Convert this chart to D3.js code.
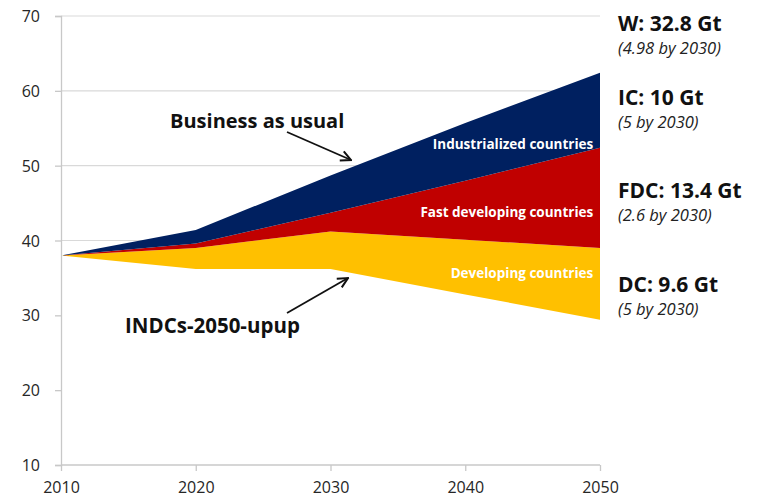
<!DOCTYPE html>
<html><head><meta charset="utf-8">
<script src="https://cdn.jsdelivr.net/npm/d3@7"></script>
<style>html,body{margin:0;padding:0;background:#fff;}svg{display:block;font-family:"Open Sans",sans-serif;}</style>
</head><body>
<svg id="c" width="765" height="500"></svg>
<script>
const years = [2010, 2020, 2030, 2040, 2050];
const baseline = [38, 36.2, 36.2, 32.8, 29.4];
const developing = [0, 2.8, 5.0, 7.3, 9.6];
const fastDeveloping = [0, 0.6, 2.5, 7.9, 13.4];
const industrialized = [0, 1.8, 5.0, 7.7, 10.0];
const yTicks = [10, 20, 30, 40, 50, 60, 70];
const gridTicks = [40, 50, 60, 70];
const seriesKeys = ["base", "DC", "FDC", "IC"];
const seriesColors = {base: "#ffffff", DC: "#ffc000", FDC: "#c00000", IC: "#002060"};
const areaLabels = [
  {key: "IC", text: "Industrialized countries", value: 52.8},
  {key: "FDC", text: "Fast developing countries", value: 43.8},
  {key: "DC", text: "Developing countries", value: 35.65}
];
const sideLabels = [
  {main: "W: 32.8 Gt", sub: "(4.98 by 2030)"},
  {main: "IC: 10 Gt", sub: "(5 by 2030)"},
  {main: "FDC: 13.4 Gt", sub: "(2.6 by 2030)"},
  {main: "DC: 9.6 Gt", sub: "(5 by 2030)"}
];

const table = years.map((y, i) => ({year: y, base: baseline[i], DC: developing[i], FDC: fastDeveloping[i], IC: industrialized[i]}));

const svg = d3.select("#c");
const x = d3.scaleLinear().domain([2010, 2050]).range([61, 600]);
const y = d3.scaleLinear().domain([10, 70]).range([465, 16]);

// gridlines
svg.append("g").selectAll("line").data(gridTicks).join("line")
  .attr("x1", x(2010)).attr("x2", x(2050))
  .attr("y1", d => y(d)).attr("y2", d => y(d))
  .attr("stroke", "#d9d9d9").attr("stroke-width", 1.2);

const stack = d3.stack().keys(seriesKeys);
const stacked = stack(table);
const area = d3.area().x(d => x(d.data.year)).y0(d => y(Math.max(10, d[0]))).y1(d => y(d[1]));
const baseArea = d3.area().x(d => x(d.data.year)).y0(y(10)).y1(d => y(d[1]));

svg.append("g").selectAll("path").data(stacked).join("path")
  .attr("d", s => s.key === "base" ? baseArea(s) : area(s))
  .attr("fill", s => seriesColors[s.key]);

// axes
const yAxis = svg.append("g").attr("transform", `translate(${x(2010)},0)`)
  .call(d3.axisLeft(y).tickValues(yTicks).tickSize(6).tickPadding(15).tickFormat(d3.format("d")));
const xAxis = svg.append("g").attr("transform", `translate(0,${y(10)})`)
  .call(d3.axisBottom(x).tickValues(years).tickSize(6).tickPadding(11).tickFormat(d3.format("d")));
[yAxis, xAxis].forEach(g => {
  g.select(".domain").attr("stroke", "#c8c8c8").attr("stroke-width", 1.3);
  g.selectAll(".tick line").attr("stroke", "#c8c8c8").attr("stroke-width", 1.3);
  g.selectAll(".tick text").attr("fill", "#262626").style("font-size", "16px").style("font-family", "'Open Sans',sans-serif");
});
yAxis.selectAll(".tick text").attr("dy", "0.35em");
xAxis.select(".domain").attr("d", `M${x(2010)},0H${x(2050)}`);

// in-area labels
svg.append("g").selectAll("text").data(areaLabels).join("text")
  .attr("x", x(2049.5)).attr("y", d => y(d.value))
  .attr("text-anchor", "end").attr("dy", "0.35em")
  .attr("fill", "#fff").style("font-weight", "bold").style("font-size", "13.5px")
  .text(d => d.text);

// side labels
const sideMainY = [31, 105, 198, 292];
const g2 = svg.append("g");
sideLabels.forEach((d, i) => {
  g2.append("text").attr("x", 618).attr("y", sideMainY[i]).attr("fill", "#111")
    .style("font-weight", "bold").style("font-size", "21px").text(d.main);
  g2.append("text").attr("x", 618).attr("y", sideMainY[i] + 23).attr("fill", "#222")
    .style("font-style", "italic").style("font-size", "16.5px").text(d.sub);
});

// annotations
const defs = svg.append("defs");
defs.append("marker").attr("id", "ah").attr("viewBox", "0 0 10 10").attr("refX", 9).attr("refY", 5)
  .attr("markerWidth", 7).attr("markerHeight", 7).attr("orient", "auto")
  .append("path").attr("d", "M1,1 L9,5 L1,9").attr("fill", "none").attr("stroke", "#111").attr("stroke-width", 1.6);

svg.append("text").attr("x", 170).attr("y", 128).attr("fill", "#111")
  .style("font-weight", "bold").style("font-size", "20px").text("Business as usual");
svg.append("line").attr("x1", 287).attr("y1", 132).attr("x2", 351).attr("y2", 160)
  .attr("stroke", "#111").attr("stroke-width", 1.8).attr("marker-end", "url(#ah)");

svg.append("text").attr("x", 125).attr("y", 333).attr("fill", "#111")
  .style("font-weight", "bold").style("font-size", "20.5px").text("INDCs-2050-upup");
svg.append("line").attr("x1", 287).attr("y1", 313).attr("x2", 348).attr("y2", 278)
  .attr("stroke", "#111").attr("stroke-width", 1.8).attr("marker-end", "url(#ah)");
</script>
</body></html>
